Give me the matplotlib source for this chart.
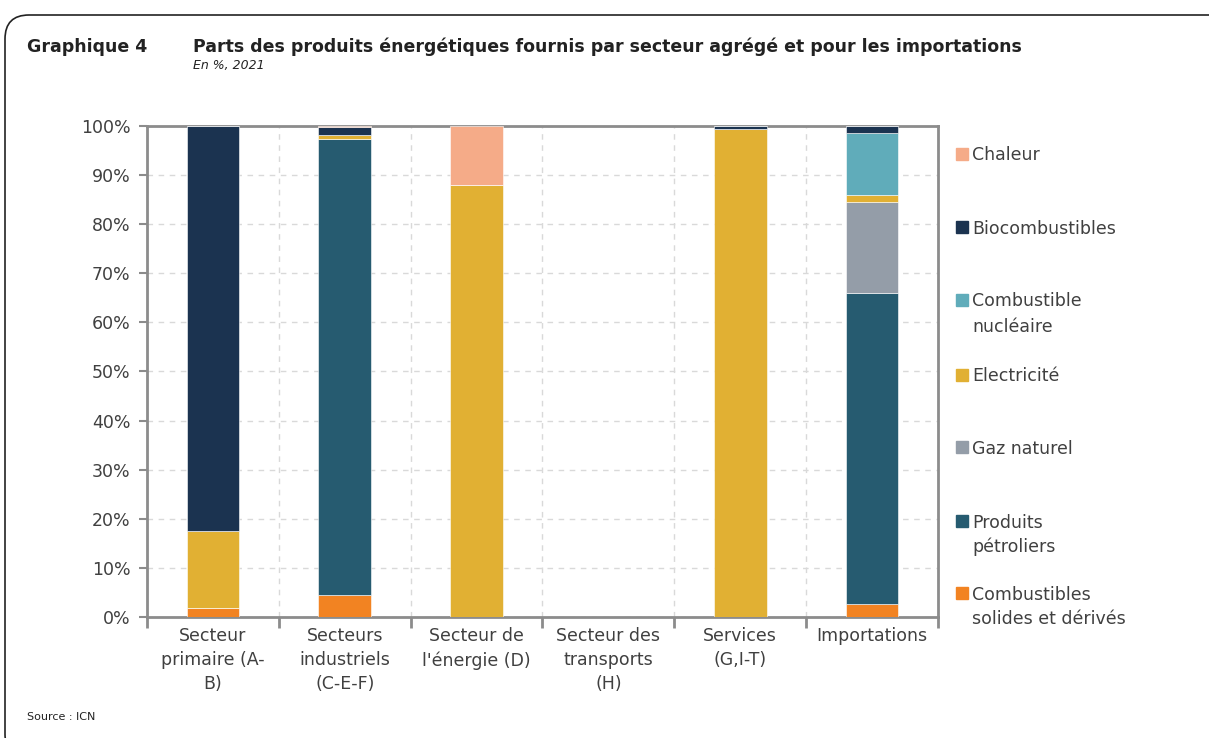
import matplotlib
matplotlib.use("Agg")
import matplotlib.pyplot as plt
import numpy as np
from matplotlib.patches import FancyBboxPatch, Rectangle

plt.rcParams['font.family'] = ['DejaVu Sans']

categories = ["Secteur\nprimaire (A-\nB)", "Secteurs\nindustriels\n(C-E-F)",
              "Secteur de\nl'énergie (D)", "Secteur des\ntransports\n(H)",
              "Services\n(G,I-T)", "Importations"]

# stacked from bottom to top
series = ["Combustibles\nsolides et dérivés", "Produits\npétroliers", "Gaz naturel",
          "Electricité", "Combustible\nnucléaire", "Biocombustibles", "Chaleur"]
colors = ["#F28322", "#265B70", "#949DA8", "#E1B033", "#60ACBA", "#1B3350", "#F5AB88"]

solides   = [1.8, 4.5, 0.0, 0.0, 0.0, 2.7]
petrole   = [0.0, 92.9, 0.0, 0.0, 0.0, 63.2]
gaz       = [0.0, 0.0, 0.0, 0.0, 0.0, 18.7]
elec      = [15.7, 0.8, 88.0, 0.0, 99.3, 1.3]
nucleaire = [0.0, 0.0, 0.0, 0.0, 0.0, 12.7]
biocomb   = [82.5, 1.5, 0.0, 0.0, 0.7, 1.4]
chaleur   = [0.0, 0.3, 12.0, 0.0, 0.0, 0.0]
values = [solides, petrole, gaz, elec, nucleaire, biocomb, chaleur]

W, H = 1209, 738
fig = plt.figure(figsize=(W / 100, H / 100), dpi=100)

# rounded frame, right and bottom edges off the canvas
frame = FancyBboxPatch((5, -20), 1240, H - 15 + 20,
                       boxstyle="round,pad=0,rounding_size=24",
                       transform=None, fill=False,
                       edgecolor="#222222", linewidth=1.2, clip_on=False)
fig.patches.append(frame)

ax = fig.add_axes([147 / W, 1 - 617 / H, (938 - 147) / W, (617 - 126) / H])

x = np.arange(len(categories))
bottom = np.zeros(len(categories))
for name, vals, col in zip(series, values, colors):
    ax.bar(x, vals, width=0.4, bottom=bottom, color=col, label=name,
           edgecolor="white", linewidth=0.4, zorder=3)
    bottom += np.array(vals)

ax.set_xlim(-0.5, len(categories) - 0.5)
ax.set_ylim(0, 100)
ax.set_yticks(np.arange(0, 101, 10))
ax.set_yticklabels([f"{v}%" for v in range(0, 101, 10)], fontsize=12.5, color="#404040")

ax.set_xticks(np.arange(-0.5, len(categories), 1))
ax.set_xticklabels([])
ax.set_xticks(x, minor=True)
ax.set_xticklabels(categories, minor=True, fontsize=12.5, color="#404040", linespacing=1.45)
ax.tick_params(axis='x', which='minor', length=0, pad=7)
ax.tick_params(axis='x', which='major', length=8, width=2, color="#8c8c8c")
ax.tick_params(axis='y', length=6, width=1.5, color="#8c8c8c", pad=6)

ax.grid(True, which='major', axis='both', linestyle=(0, (4, 4)), color="#d9d9d9",
        linewidth=1, zorder=0)
for s in ax.spines.values():
    s.set_color("#8c8c8c")
    s.set_linewidth(2)

# legend drawn by hand so the swatch sits on the first line, as in Excel
legend_y = [154, 227, 300, 375, 447, 521, 593]
for name, col, yy in zip(series[::-1], colors[::-1], legend_y):
    fig.patches.append(Rectangle((956 / W, 1 - (yy + 6) / H), 12 / W, 12 / H,
                                 transform=fig.transFigure, color=col))
    for i, line in enumerate(name.split("\n")):
        fig.text(972 / W, 1 - (yy + 6.5 + 25 * i) / H, line, fontsize=12.5,
                 color="#404040", va='baseline')

fig.text(27 / W, 1 - 47 / H, "Graphique 4", fontsize=12.5, fontweight='bold',
         color="#222222", va='center')
fig.text(193 / W, 1 - 47 / H,
         "Parts des produits énergétiques fournis par secteur agrégé et pour les importations",
         fontsize=12.5, fontweight='bold', color="#222222", va='center')
fig.text(193 / W, 1 - 66 / H, "En %, 2021", fontsize=9, style='italic',
         color="#222222", va='center')
fig.text(27 / W, 1 - 717 / H, "Source : ICN", fontsize=8, color="#222222",
         va='center')

fig.savefig("out.png", dpi=100)
